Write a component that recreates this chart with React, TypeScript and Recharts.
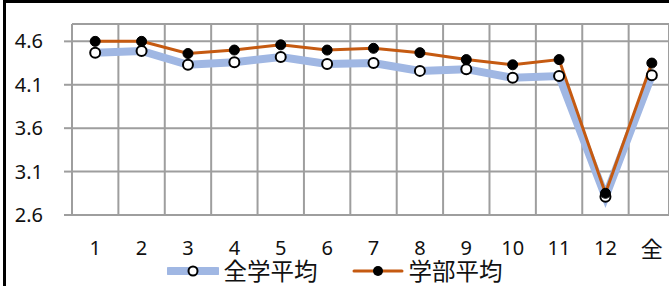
import React from 'react';
import { LineChart, Line, XAxis, YAxis, CartesianGrid, Legend } from 'recharts';

const categories = ['1', '2', '3', '4', '5', '6', '7', '8', '9', '10', '11', '12', '全'];
const allAvg = [4.47, 4.49, 4.33, 4.36, 4.42, 4.34, 4.35, 4.26, 4.28, 4.18, 4.2, 2.81, 4.21];
const facultyAvg = [4.6, 4.6, 4.46, 4.5, 4.56, 4.5, 4.52, 4.47, 4.39, 4.33, 4.39, 2.85, 4.35];
const yTicks = [2.6, 3.1, 3.6, 4.1, 4.6];
const seriesNames = ['全学平均', '学部平均'];

const data = categories.map((c, i) => ({ x: i + 1, label: c, all: allAvg[i], fac: facultyAvg[i] }));
const labelTicks = categories.map((_, i) => i + 1);
const gridTicks = categories.map((_, i) => i + 0.5);

const FONT = "'Noto Sans', 'Noto Sans CJK JP', sans-serif";
const GRID = '#9e9e9e';
const BLUE = '#a0b7e3';
const ORANGE = '#c55a11';

const XTick = (props: any) => {
  const { x, y, payload } = props;
  const label = categories[payload.value - 1];
  const cjk = label === '全';
  return (
    <text x={x} y={y} dy="0.71em" textAnchor="middle" fontFamily={FONT} fontSize={cjk ? 22 : 20} fill="#111">
      {label}
    </text>
  );
};

const LegendContent = () => (
  <div style={{ display: 'flex', justifyContent: 'center', gap: 34, fontFamily: FONT, fontSize: 23.5, color: '#111', lineHeight: '28px' }}>
    <div style={{ display: 'flex', alignItems: 'center', gap: 5 }}>
      <svg width={52} height={14}>
        <line x1={2} y1={7} x2={50} y2={7} stroke={BLUE} strokeWidth={8} strokeLinecap="round" />
        <circle cx={26} cy={7} r={4.5} fill="#fff" stroke="#000" strokeWidth={2} />
      </svg>
      <span>{seriesNames[0]}</span>
    </div>
    <div style={{ display: 'flex', alignItems: 'center', gap: 5 }}>
      <svg width={52} height={14}>
        <line x1={2} y1={7} x2={50} y2={7} stroke={ORANGE} strokeWidth={3} strokeLinecap="round" />
        <circle cx={26} cy={7} r={5} fill="#000" />
      </svg>
      <span>{seriesNames[1]}</span>
    </div>
  </div>
);

export default function App() {
  return (
    <div style={{ position: 'absolute', left: 0, top: 0, width: 669, height: 286, background: '#fff', overflow: 'hidden' }}>
      <div style={{ position: 'absolute', left: 3, top: 0, width: 700, height: 300, borderLeft: '3px solid #000', borderTop: '3px solid #000', boxSizing: 'border-box' }} />
      <LineChart width={669} height={286} data={data} margin={{ top: 24, right: 0, left: 0, bottom: 41 }}>
        <CartesianGrid xAxisId="grid" stroke={GRID} strokeWidth={2} />
        <XAxis xAxisId="grid" dataKey="x" type="number" domain={[0.5, 13.37]} ticks={gridTicks} allowDataOverflow hide
          orientation="top" height={0} />
        <XAxis xAxisId="lbl" dataKey="x" type="number" domain={[0.5, 13.37]} ticks={labelTicks} allowDataOverflow
          height={30} tickLine={false} tickSize={0} tickMargin={26} axisLine={{ stroke: GRID, strokeWidth: 2 }} tick={<XTick />} interval={0} />
        <YAxis domain={[2.6, 4.8]} ticks={yTicks} allowDataOverflow width={72} axisLine={false}
          tickLine={{ stroke: GRID, strokeWidth: 2 }} tickSize={8} tickMargin={21}
          tick={{ fontFamily: FONT, fontSize: 20, fill: '#111' }} tickFormatter={(v: number) => v.toFixed(1)} interval={0} />
        <Legend verticalAlign="middle" align="center" layout="horizontal" content={<LegendContent />}
          wrapperStyle={{ position: 'absolute', top: 257, left: 0, width: 669, height: 28 }} />
        <Line xAxisId="lbl" dataKey="all" name={seriesNames[0]} stroke={BLUE} strokeWidth={8} isAnimationActive={false}
          dot={{ r: 5, fill: '#fff', stroke: '#000', strokeWidth: 2 }} />
        <Line xAxisId="lbl" dataKey="fac" name={seriesNames[1]} stroke={ORANGE} strokeWidth={3} isAnimationActive={false}
          dot={{ r: 5, fill: '#000', stroke: '#000', strokeWidth: 1 }} />
      </LineChart>
    </div>
  );
}
